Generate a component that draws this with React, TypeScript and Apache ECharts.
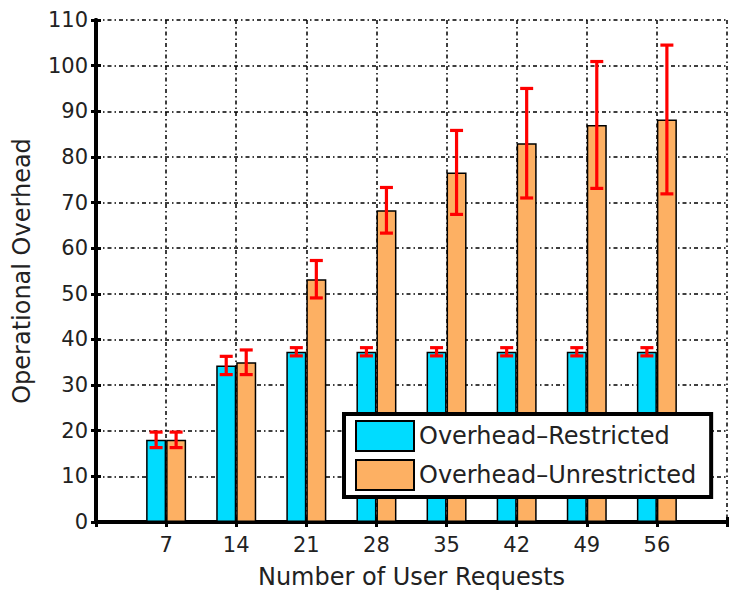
import React, { useEffect, useRef } from "react";
import * as echarts from "echarts";

const categories = [7, 14, 21, 28, 35, 42, 49, 56];
const restrictedMean = [18, 34.3, 37.3, 37.3, 37.3, 37.3, 37.3, 37.3];
const restrictedErr = [1.7, 2.0, 0.9, 0.9, 0.9, 0.9, 0.9, 0.9];
const unrestrictedMean = [18, 35, 53.2, 68.3, 76.6, 83, 87, 88.2];
const unrestrictedErr = [1.7, 2.7, 4.1, 5, 9.2, 12, 13.9, 16.3];
const yTicks = [0, 10, 20, 30, 40, 50, 60, 70, 80, 90, 100, 110];

const FONT = "DejaVu Sans, Verdana, sans-serif";
const dashDot = [4, 3, 1.5, 3];

export default function App() {
  const ref = useRef<HTMLDivElement>(null);
  useEffect(() => {
    if (!ref.current) return;
    const chart = echarts.init(ref.current, undefined, { renderer: "svg" });
    const errRender = (offset: number) => (params: any, api: any) => {
      const x = api.value(0);
      const lo = api.coord([x, api.value(1)]);
      const hi = api.coord([x, api.value(2)]);
      const cx = lo[0] + offset;
      const cap = 6.5;
      const style = { stroke: "#ff0000", lineWidth: 3.2 };
      return {
        type: "group",
        children: [
          { type: "line", shape: { x1: cx, y1: lo[1], x2: cx, y2: hi[1] }, style },
          { type: "line", shape: { x1: cx - cap, y1: lo[1], x2: cx + cap, y2: lo[1] }, style },
          { type: "line", shape: { x1: cx - cap, y1: hi[1], x2: cx + cap, y2: hi[1] }, style },
        ],
      };
    };
    const gridLine = { show: true, lineStyle: { color: "#000", width: 1.5, type: dashDot } };
    chart.setOption({
      animation: false,
      backgroundColor: "#fff",
      textStyle: { fontFamily: FONT },
      grid: { left: 96, top: 20, width: 642, height: 503 },
      legend: {
        left: 344,
        top: 414,
        orient: "vertical",
        data: ["Overhead–Restricted", "Overhead–Unrestricted"],
        backgroundColor: "#fff",
        borderColor: "#000",
        borderWidth: 4,
        borderRadius: 0,
        padding: [6, 15, 6, 11],
        itemWidth: 58,
        itemHeight: 30,
        itemGap: 7,
        icon: "rect",
        textStyle: { fontSize: 24, color: "#222", fontFamily: FONT },
      },
      xAxis: [
        {
          type: "value",
          min: 0,
          max: 63,
          interval: 7,
          name: "Number of User Requests",
          nameLocation: "middle",
          nameGap: 43,
          nameTextStyle: { fontSize: 24, color: "#222", fontFamily: FONT },
          axisLine: { show: true, lineStyle: { color: "#000", width: 4 } },
          axisTick: { show: true, inside: true, length: 5, lineStyle: { width: 3, color: "#000" } },
          axisLabel: {
            fontSize: 21,
            color: "#222",
            margin: 12,
            fontFamily: FONT,
            formatter: (v: number) => (categories.includes(v) ? String(v) : ""),
          },
          splitLine: gridLine,
        },
        {
          type: "value",
          position: "top",
          min: 0,
          max: 63,
          interval: 7,
          axisLine: { show: true, lineStyle: { color: "#000", width: 4 } },
          axisTick: { show: true, inside: true, length: 5, lineStyle: { width: 3, color: "#000" } },
          axisLabel: { show: false },
          splitLine: { show: false },
        },
      ],
      yAxis: [
        {
          type: "value",
          min: yTicks[0],
          max: yTicks[yTicks.length - 1],
          interval: 10,
          name: "Operational Overhead",
          nameLocation: "middle",
          nameGap: 62,
          nameTextStyle: { fontSize: 24, color: "#222", fontFamily: FONT },
          axisLine: { show: true, lineStyle: { color: "#000", width: 4 } },
          axisTick: { show: true, inside: true, length: 5, lineStyle: { width: 3, color: "#000" } },
          axisLabel: { fontSize: 21, color: "#222", margin: 8, fontFamily: FONT },
          splitLine: gridLine,
        },
        {
          type: "value",
          position: "right",
          min: 0,
          max: 110,
          interval: 10,
          axisLine: { show: true, lineStyle: { color: "#000", width: 4 } },
          axisTick: { show: true, inside: true, length: 5, lineStyle: { width: 3, color: "#000" } },
          axisLabel: { show: false },
          splitLine: { show: false },
        },
      ],
      series: [
        {
          name: "Overhead–Restricted",
          type: "bar",
          barWidth: 20,
          barGap: "0%",
          data: categories.map((c, i) => [c, restrictedMean[i]]),
          itemStyle: { color: "#00dcff", borderColor: "#000", borderWidth: 1.5 },
          z: 3,
        },
        {
          name: "Overhead–Unrestricted",
          type: "bar",
          barWidth: 20,
          barGap: "0%",
          data: categories.map((c, i) => [c, unrestrictedMean[i]]),
          itemStyle: { color: "#fdb063", borderColor: "#000", borderWidth: 1.5 },
          z: 3,
        },
        {
          type: "custom",
          renderItem: errRender(-10),
          data: categories.map((c, i) => [c, restrictedMean[i] - restrictedErr[i], restrictedMean[i] + restrictedErr[i]]),
          z: 4,
          silent: true,
        },
        {
          type: "custom",
          renderItem: errRender(10),
          data: categories.map((c, i) => [c, unrestrictedMean[i] - unrestrictedErr[i], unrestrictedMean[i] + unrestrictedErr[i]]),
          z: 4,
          silent: true,
        },
      ],
    });
    return () => chart.dispose();
  }, []);
  return <div ref={ref} style={{ width: 730, height: 594, position: "absolute", left: 0, top: 0 }} />;
}
